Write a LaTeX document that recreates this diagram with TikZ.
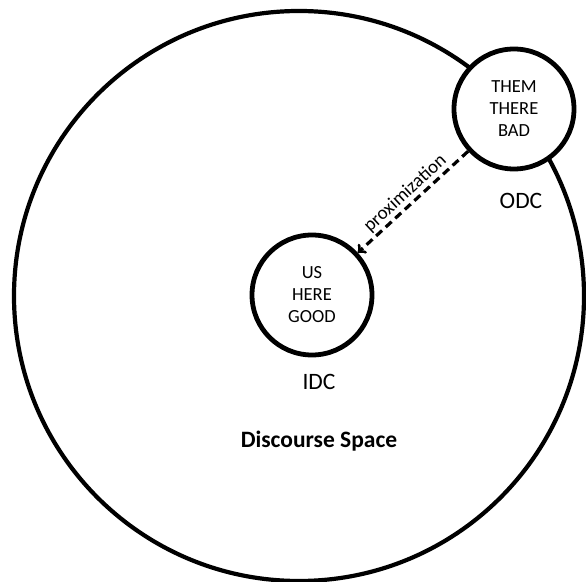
\documentclass[tikz,border=0pt]{standalone}
\usepackage{fontspec}
\setmainfont{Carlito}
\usepackage{tikz}
\usetikzlibrary{shapes,arrows,positioning}

\begin{document}
\begin{tikzpicture}[x=1pt, y=1pt]
			\tikzstyle{Space} 	= [circle, draw, line width=4.2pt, minimum size=570pt, inner sep=0pt]
			\tikzstyle{Centre}	= [circle, draw, fill=white, line width=4.8pt, minimum size=120pt, inner sep=0pt, align=center, font=\fontsize{18.5}{22}\selectfont]
			\tikzstyle{Label}	= [font=\fontsize{23.5}{26}\selectfont]
			\tikzstyle{Prox}	= [line width=3.2pt, dash pattern=on 8pt off 5pt]

			\useasboundingbox (0, 0) rectangle (586, 581);

			\node (ds) at (299, 285) [Space] {};
			\node (odc) at (514, 472) [Centre] {THEM\\THERE\\BAD};
			\node (idc) at (312, 286) [Centre] {US\\HERE\\GOOD};

			\node (lodc) at (521, 380) [Label] {ODC};
			\node (lidc) at (319, 199) [Label] {IDC};
			\node (lds) at (319, 140) [Label] {\bfseries Discourse Space};

			\draw [-to] (odc) to node [sloped, above, inner sep=3pt, font=\fontsize{19}{22}\selectfont] {proximization} (idc) [Prox];
		\end{tikzpicture}
\end{document}
